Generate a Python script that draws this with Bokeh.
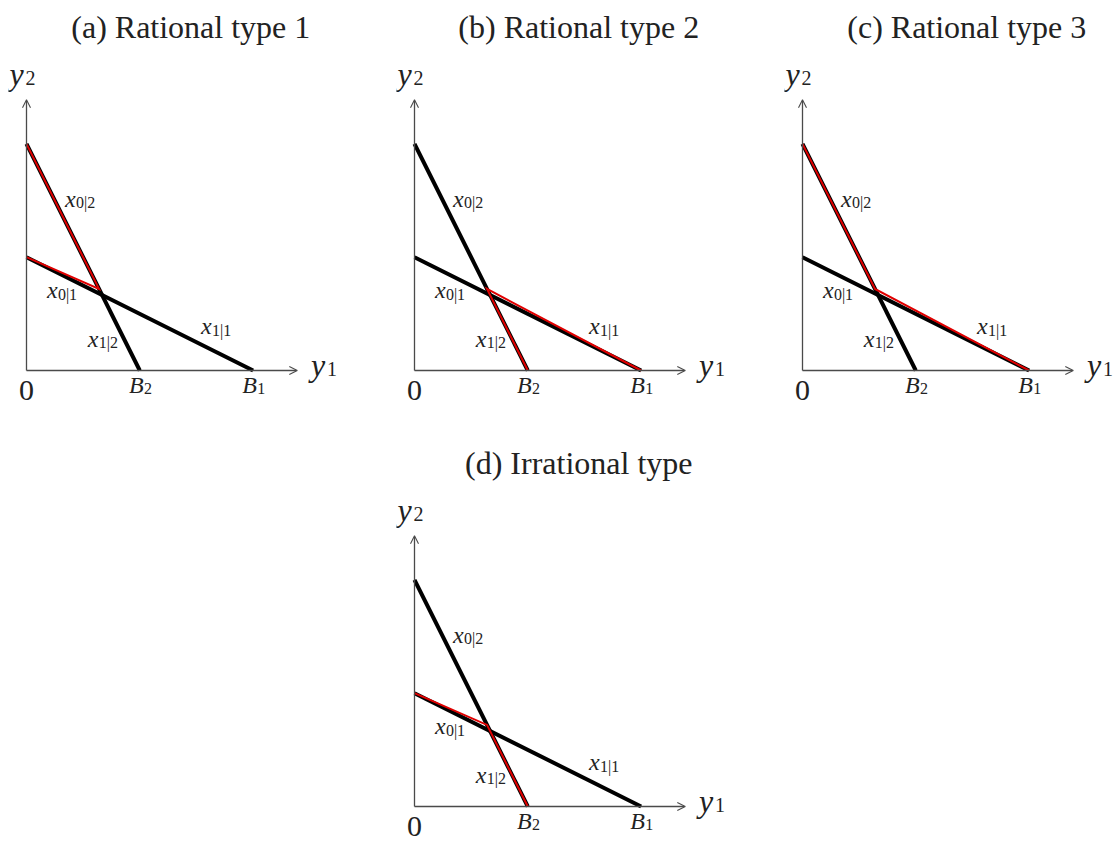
from bokeh.plotting import figure
from bokeh.layouts import column, row
from bokeh.models import Arrow, OpenHead, Spacer
from bokeh.core.properties import value
from bokeh.embed import file_html
from bokeh.resources import INLINE

# ---------------- data ----------------
titles = ["(a) Rational type 1", "(b) Rational type 2", "(c) Rational type 3", "(d) Irrational type"]
B1 = 2.0            # x-intercept of the flat line (x_{.|1})
B2 = 1.0            # x-intercept of the steep line (x_{.|2})
line1_y0 = 1.0      # y-intercept of the flat line
line2_y0 = 2.0      # y-intercept of the steep line
axis_len = 2.39
red_vertex = (0.64, 0.72)
# red (chosen) segments per panel, as path end points
red_paths_x = [
    [0.0, red_vertex[0], 0.0],
    [B2, red_vertex[0], B1],
    [0.0, red_vertex[0], B1],
    [0.0, red_vertex[0], B2],
]
red_paths_y = [
    [line2_y0, red_vertex[1], line1_y0],
    [0.0, red_vertex[1], 0.0],
    [line2_y0, red_vertex[1], 0.0],
    [line1_y0, red_vertex[1], 0.0],
]
# line labels: (main, subscript, x, y)
line_labels = [
    ("x", "0|2", 0.34, 1.435),
    ("x", "0|1", 0.18, 0.627),
    ("x", "1|2", 0.54, 0.20),
    ("x", "1|1", 1.54, 0.31),
]

SERIF = "Liberation Serif"
U = 113.3      # pixels per unit
W = 388
OX = 18
TXT = "#222222"
AX = "#4a4a4a"
TDY = -9       # baseline correction for text (px)


def math_label(p, x, y, main, sub, size, subsize, dx, dy):
    p.text(x=[x], y=[y], text=[main], text_font=value(SERIF), text_font_style="italic",
           text_font_size=value(f"{size}px"), text_align="left", text_baseline="alphabetic",
           text_color=TXT, y_offset=TDY)
    p.text(x=[x], y=[y], text=[sub], text_font=value(SERIF), text_font_style="normal",
           text_font_size=value(f"{subsize}px"), text_align="left", text_baseline="alphabetic",
           text_color=TXT, x_offset=dx, y_offset=dy + TDY)


def panel(i, height, oy):
    p = figure(width=W, height=height, output_backend="svg", toolbar_location=None,
               x_range=(-OX / U, (W - OX) / U), y_range=(-(height - oy) / U, oy / U),
               x_axis_location=None, y_axis_location=None, min_border=0,
               outline_line_color=None, tools="")
    p.grid.visible = False
    # axes with open arrow heads
    p.add_layout(Arrow(end=OpenHead(size=8, line_color=AX, line_width=1.1),
                       x_start=0, y_start=0, x_end=axis_len, y_end=0,
                       line_color=AX, line_width=1.3))
    p.add_layout(Arrow(end=OpenHead(size=8, line_color=AX, line_width=1.1),
                       x_start=0, y_start=0, x_end=0, y_end=axis_len,
                       line_color=AX, line_width=1.3))
    # budget lines
    p.line([0, B1], [line1_y0, 0], line_color="black", line_width=4.0)
    p.line([0, B2], [line2_y0, 0], line_color="black", line_width=4.0)
    # chosen segments
    p.line(red_paths_x[i], red_paths_y[i], line_color="#e00000", line_width=2.0,
           line_join="miter")
    # title
    p.text(x=[1.45], y=[2.955], text=[titles[i]], text_font=value(SERIF),
           text_font_size=value("32px"), text_align="center", text_baseline="alphabetic",
           text_color=TXT, y_offset=TDY)
    # axis labels
    math_label(p, -0.15, 2.54, "y", "2", 32, 20, 16, 4)
    math_label(p, 2.51, -0.03, "y", "1", 32, 20, 16, 4)
    p.text(x=[0.0], y=[-0.255], text=["0"], text_font=value(SERIF),
           text_font_size=value("30px"), text_align="center", text_baseline="alphabetic",
           text_color=TXT, y_offset=TDY)
    math_label(p, B2 - 0.095, -0.21, "B", "2", 24, 16, 15, 3)
    math_label(p, B1 - 0.095, -0.21, "B", "1", 24, 16, 15, 3)
    for main, sub, lx, ly in line_labels:
        math_label(p, lx, ly, main, sub, 24, 16, 11, 4)
    return p


H_TOP, OY_TOP = 430, 362
H_BOT, OY_BOT = 403, 368
pa = panel(0, H_TOP, OY_TOP)
pb = panel(1, H_TOP, OY_TOP)
pc = panel(2, H_TOP, OY_TOP)
pd = panel(3, H_BOT, OY_BOT)

grid = column(row(pa, pb, pc), row(Spacer(width=W, height=H_BOT), pd))
layout = row(Spacer(width=8, height=10), column(Spacer(width=10, height=8), grid))
open("out.html", "w").write(file_html(layout, INLINE))
